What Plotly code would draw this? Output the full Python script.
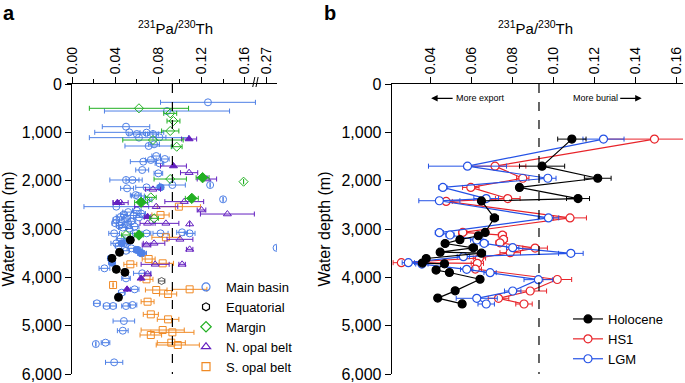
import plotly.graph_objects as go

FONT = "Liberation Sans, Arial, sans-serif"
RATIO_PROD = 0.093

# ---------------- Panel a data (depth m, 231Pa/230Th, error) ----------------
mb_depth = [379, 559, 883, 1000, 1035, 1007, 1035, 1110, 1104, 1283, 1248, 1490, 1552, 1607, 1572,
            1641, 1779, 1848, 1986, 1986, 2159, 2138, 2090, 2090, 2297, 2317, 2386, 2400, 2538,
            2620, 2650, 2680, 2700, 2720, 2750, 2760, 2790, 2810, 2840, 2860, 2880, 2900, 2930,
            2950, 2970, 2990, 3090, 3090, 3090, 3090, 3069, 3090, 3200, 3250, 3296, 3296, 3350,
            3400, 3390, 3434, 3450, 3503, 3814, 3917, 4021, 4248, 4317, 4538, 4593, 4593, 4593,
            4572, 4904, 5104, 5380, 5352, 5759]
mb_value = [0.126, 0.088, 0.050, 0.053, 0.060, 0.069, 0.075, 0.062, 0.081, 0.071, 0.076, 0.078, 0.086, 0.066, 0.073,
            0.081, 0.065, 0.080, 0.050, 0.056, 0.051, 0.069, 0.093, 0.128, 0.059, 0.061, 0.140, 0.069, 0.041,
            0.060, 0.052, 0.064, 0.048, 0.057, 0.045, 0.062, 0.050, 0.041, 0.055, 0.046, 0.040, 0.051, 0.044,
            0.058, 0.047, 0.053, 0.039, 0.059, 0.069, 0.082, 0.102, 0.109, 0.045, 0.052, 0.041, 0.048, 0.043,
            0.055, 0.279, 0.061, 0.050, 0.065, 0.030, 0.065, 0.050, 0.058, 0.046, 0.023, 0.032, 0.038, 0.050,
            0.056, 0.048, 0.047, 0.022, 0.031, 0.039]
mb_err = [0.044, 0.058, 0.022, 0.032, 0.008, 0.006, 0.005, 0.046, 0.006, 0.022, 0.005, 0.004, 0.004, 0.012, 0.005,
          0.004, 0.006, 0.004, 0.015, 0.006, 0.006, 0.010, 0.012, 0.0, 0.005, 0.006, 0.0, 0.005, 0.030,
          0.004, 0.005, 0.004, 0.003, 0.006, 0.004, 0.005, 0.004, 0.003, 0.004, 0.005, 0.003, 0.004, 0.003,
          0.004, 0.004, 0.003, 0.005, 0.005, 0.004, 0.007, 0.005, 0.005, 0.004, 0.004, 0.005, 0.004, 0.003,
          0.004, 0.0, 0.004, 0.003, 0.004, 0.005, 0.008, 0.004, 0.004, 0.003, 0.003, 0.003, 0.003, 0.004,
          0.004, 0.010, 0.005, 0.0, 0.004, 0.008]
mbf_depth = [2138, 3296, 3434, 3503, 3607, 3697]
mbf_value = [0.082, 0.046, 0.060, 0.064, 0.036, 0.037]
mbf_err = [0.003, 0.003, 0.003, 0.003, 0.003, 0.003]

eq_depth = [4076]
eq_value = [0.083]
eq_err = [0.003]
eqf_depth = [3228, 3483, 3607, 3835, 3897, 4414]
eqf_value = [0.054, 0.044, 0.037, 0.041, 0.049, 0.043]

mg_depth = [503, 607, 766, 972, 1159, 1297, 1966, 2021, 2345, 2779, 3124]
mg_value = [0.062, 0.091, 0.094, 0.091, 0.075, 0.097, 0.091, 0.159, 0.073, 0.076, 0.050]
mg_err = [0.046, 0.006, 0.006, 0.008, 0.028, 0.005, 0.015, 0.0, 0.005, 0.004, 0.004]
mgf_depth = [1938, 2366, 2448, 3124]
mgf_value = [0.121, 0.111, 0.064, 0.062]
mgf_err = [0.006, 0.006, 0.006, 0.004]

no_depth = [1835, 1966, 2179, 2455, 2434, 2538, 2607, 2690, 2883, 2883, 2897, 3214, 3296, 3331, 3421,
            3731, 3731, 3931]
no_value = [0.1085, 0.125, 0.075, 0.045, 0.104, 0.078, 0.120, 0.144, 0.070, 0.087, 0.109, 0.100, 0.076,
            0.069, 0.109, 0.077, 0.102, 0.070]
no_err = [0.008, 0.009, 0.007, 0.007, 0.018, 0.020, 0.004, 0.025, 0.007, 0.012, 0.0, 0.012, 0.010,
          0.004, 0.003, 0.013, 0.003, 0.003]
nof_depth = [1138, 1697, 2455, 2745, 4021, 4248]
nof_value = [0.1085, 0.094, 0.042, 0.070, 0.064, 0.051]
nof_err = [0.007, 0.012, 0.004, 0.003, 0.0, 0.0]

so_depth = [2538, 2710, 3172, 3621, 3731, 3710, 4041, 4159, 4262, 4345, 4248, 4504, 4766, 4869, 5090,
            5138, 5193, 5352, 5400]
so_value = [0.099, 0.082, 0.087, 0.071, 0.054, 0.084, 0.069, 0.038, 0.078, 0.089, 0.109, 0.070, 0.073,
            0.089, 0.084, 0.093, 0.073, 0.092, 0.098]
so_err = [0.020, 0.008, 0.013, 0.006, 0.006, 0.010, 0.006, 0.0, 0.010, 0.008, 0.016, 0.006, 0.007,
          0.010, 0.020, 0.020, 0.010, 0.013, 0.020]

a_ticks = [0.00, 0.04, 0.08, 0.12, 0.16, 0.27]
a_minor = [0.02, 0.06, 0.10, 0.14]

# ---------------- Panel b data ----------------
hol_depth = [1140, 1700, 1950, 2140, 2370, 2420, 2770, 3070, 3140, 3220, 3300, 3390, 3480, 3500, 3610,
             3705, 3720, 3850, 3900, 4040, 4280, 4430, 4550]
hol_value = [0.109, 0.0945, 0.1216, 0.0835, 0.112, 0.065, 0.0713, 0.0668, 0.0635, 0.0545, 0.0473, 0.061,
             0.0449, 0.065, 0.0381, 0.0362, 0.047, 0.0429, 0.0494, 0.0643, 0.0522, 0.0437, 0.0556]
hol_err = [0.0069, 0.011, 0.0065, 0.0015, 0.0056, 0.001, 0.002, 0.001, 0.001, 0.0015, 0.0015, 0.002,
           0.0015, 0.002, 0.0015, 0.0015, 0.0015, 0.0015, 0.0015, 0.001, 0.0015, 0.0015, 0.0015]

hs1_depth = [1140, 1700, 1950, 2140, 2370, 2430, 2770, 3070, 3125, 3215, 3285, 3395, 3490, 3600,
             3697, 3710, 3830, 4045, 4283, 4434, 4552]
hs1_value = [0.1492, 0.0716, 0.0851, 0.0598, 0.0778, 0.0478, 0.1081, 0.0559, 0.0752, 0.0757, 0.074,
             0.0911, 0.079, 0.064, 0.026, 0.063, 0.062, 0.1019, 0.0887, 0.0733, 0.0857]
hs1_err = [0.025, 0.015, 0.003, 0.004, 0.006, 0.003, 0.008, 0.002, 0.002, 0.002, 0.002, 0.006, 0.005,
           0.003, 0.004, 0.003, 0.003, 0.007, 0.008, 0.005, 0.004]

lgm_depth = [1140, 1700, 1950, 2140, 2370, 2415, 2770, 3075, 3124, 3228, 3296, 3387, 3504, 3572,
             3697, 3725, 3835, 3903, 4048, 4283, 4434, 4552]
lgm_value = [0.1244, 0.0582, 0.0973, 0.0462, 0.0673, 0.0445, 0.0976, 0.0445, 0.0497, 0.0627, 0.0663,
             0.0802, 0.1085, 0.0562, 0.0294, 0.036, 0.0578, 0.0692, 0.0927, 0.0802, 0.0627, 0.0673]
lgm_err = [0.010, 0.019, 0.004, 0.002, 0.006, 0.010, 0.005, 0.002, 0.002, 0.003, 0.002, 0.003, 0.006,
           0.003, 0.003, 0.003, 0.003, 0.003, 0.007, 0.004, 0.010, 0.004]

depth_ticks = [0, 1000, 2000, 3000, 4000, 5000, 6000]

# ---------------- helpers ----------------
BREAK_LO, BREAK_SHIFT = 0.17, 0.0894


def brk(values):
    """Position on the broken panel-a axis."""
    return [v if v <= BREAK_LO else v - BREAK_SHIFT for v in values]


C_MB = "#4f80e6"
C_MG = "#22b022"
C_NO = "#6420c0"
C_SO = "#f08a25"
C_HS1 = "#e8242a"
C_LGM = "#2452e6"


def errx(arr, color):
    return dict(type="data", array=arr, visible=True, color=color, thickness=1, width=2.5)


fig = go.Figure()


def add_a(depth, value, err, symbol, color, name, fill=False, size=7):
    fig.add_trace(go.Scatter(
        x=brk(value), y=depth, mode="markers", name=name, showlegend=False,
        marker=dict(symbol=symbol, size=size, color=color if fill else "rgba(0,0,0,0)",
                    line=dict(color=color, width=1)),
        error_x=errx(err, color) if err is not None else None,
        xaxis="x", yaxis="y"))


add_a(mb_depth, mb_value, mb_err, "circle", C_MB, "Main basin")
add_a(mbf_depth, mbf_value, mbf_err, "circle", C_MB, "Main basin", fill=True)
add_a(so_depth, so_value, so_err, "square", C_SO, "S. opal belt")
add_a(no_depth, no_value, no_err, "triangle-up", C_NO, "N. opal belt")
add_a(nof_depth, nof_value, nof_err, "triangle-up", C_NO, "N. opal belt", fill=True)
add_a(mg_depth, mg_value, mg_err, "diamond", C_MG, "Margin")
add_a(mgf_depth, mgf_value, mgf_err, "diamond", C_MG, "Margin", fill=True, size=8)
add_a(eq_depth, eq_value, eq_err, "hexagon", "#555555", "Equatorial")
add_a(eqf_depth, eqf_value, None, "circle", "black", "Equatorial", fill=True, size=8)

# legend entries for panel a (open symbols, as in the key)
for nm, sym, col in [("Main basin", "circle", C_MB), ("Equatorial", "hexagon", "black"),
                     ("Margin", "diamond", C_MG), ("N. opal belt", "triangle-up", C_NO),
                     ("S. opal belt", "square", C_SO)]:
    fig.add_trace(go.Scatter(x=[None], y=[None], mode="markers", name=nm, legend="legend",
                             marker=dict(symbol=sym, size=8, color="rgba(0,0,0,0)",
                                         line=dict(color=col, width=1.2)),
                             xaxis="x", yaxis="y"))


def add_b(depth, value, err, color, name, filled, rank):
    fig.add_trace(go.Scatter(
        x=value, y=depth, mode="lines+markers", name=name, legend="legend2", legendrank=rank,
        line=dict(color=color, width=1.2),
        marker=dict(symbol="circle", size=8, color=color if filled else "white",
                    line=dict(color=color, width=1.2)),
        error_x=errx(err, color), xaxis="x2", yaxis="y2"))


add_b(hs1_depth, hs1_value, hs1_err, C_HS1, "HS1", False, 2)
add_b(lgm_depth, lgm_value, lgm_err, C_LGM, "LGM", False, 3)
add_b(hol_depth, hol_value, hol_err, "black", "Holocene", True, 1)

W, H = 685, 383
ax_font = dict(family=FONT, size=14, color="black")
common_x = dict(side="top", tickangle=-90, ticks="outside", ticklen=6, tickwidth=1,
                showline=True, linecolor="black", linewidth=1, showgrid=False, zeroline=False,
                tickfont=ax_font, tickcolor="black", automargin=False)
common_y = dict(range=[6000, 0], tickvals=depth_ticks, tickformat=",", ticks="outside", ticklen=6,
                tickwidth=1, showline=True, linecolor="black", linewidth=1, showgrid=False,
                zeroline=False, tickfont=dict(family=FONT, size=16, color="black"), tickcolor="black",
                automargin=False,
                title=dict(text="Water depth (m)", font=dict(family=FONT, size=16, color="black"),
                           standoff=6))

fig.update_layout(
    width=W, height=H, margin=dict(l=0, r=0, t=0, b=0, autoexpand=False),
    paper_bgcolor="white", plot_bgcolor="white",
    font=dict(family=FONT, color="black"),
    xaxis=dict(domain=[66.7 / W, 277 / W], range=[-0.005, 0.19], anchor="y",
               tickvals=brk(a_ticks), ticktext=["%.2f" % t for t in a_ticks],
               minor=dict(tickvals=a_minor, ticks="outside", ticklen=4, tickcolor="black"),
               **common_x),
    yaxis=dict(domain=[1 - 374 / H, 1 - 84 / H], anchor="free", position=71 / W, **common_y),
    xaxis2=dict(domain=[391.7 / W, 683 / W], range=[0.0213, 0.1631], anchor="y2",
                tickvals=[0.04, 0.06, 0.08, 0.10, 0.12, 0.14, 0.16], tickformat=".2f", **common_x),
    yaxis2=dict(domain=[1 - 374 / H, 1 - 84 / H], anchor="x2", **common_y),
    legend=dict(x=186 / W, y=1 - 272 / H, xanchor="left", yanchor="top",
                bgcolor="rgba(0,0,0,0)", font=dict(family=FONT, size=13, color="black"),
                tracegroupgap=0),
    legend2=dict(x=568 / W, y=1 - 304 / H, xanchor="left", yanchor="top",
                 bgcolor="rgba(0,0,0,0)", font=dict(family=FONT, size=13, color="black"),
                 traceorder="normal"),
)

# production-ratio dashed lines
for xr, yr in [("x", "y"), ("x2", "y2")]:
    fig.add_shape(type="line", xref=xr, yref=yr, x0=RATIO_PROD, x1=RATIO_PROD, y0=0, y1=6000,
                  line=dict(color="black", width=1.2, dash="dash"))

# axis-break marks on panel a
for dx in [-0.0015, 0.0015]:
    fig.add_shape(type="line", xref="x", yref="paper", x0=BREAK_LO + dx - 0.001, x1=BREAK_LO + dx + 0.001,
                  y0=1 - 87 / H, y1=1 - 77 / H, line=dict(color="black", width=1))

title_txt = "<sup>231</sup>Pa/<sup>230</sup>Th"
fig.add_annotation(text=title_txt, x=175 / W, y=1 - 16 / H, xref="paper", yref="paper",
                   xanchor="center", showarrow=False, font=dict(family=FONT, size=15, color="black"))
fig.add_annotation(text=title_txt, x=535 / W, y=1 - 16 / H, xref="paper", yref="paper",
                   xanchor="center", showarrow=False, font=dict(family=FONT, size=15, color="black"))
fig.add_annotation(text="<b>a</b>", x=1 / W, y=1 - 0 / H, xref="paper", yref="paper",
                   xanchor="left", yanchor="top", showarrow=False,
                   font=dict(family=FONT, size=20, color="black"))
fig.add_annotation(text="<b>b</b>", x=322 / W, y=1 - 0 / H, xref="paper", yref="paper",
                   xanchor="left", yanchor="top", showarrow=False,
                   font=dict(family=FONT, size=20, color="black"))

# export / burial arrows
fig.add_annotation(text="More export", x=0.0645, y=296, xref="x2", yref="y2", showarrow=False,
                   font=dict(family=FONT, size=9, color="black"))
fig.add_annotation(text="", x=0.0405, y=296, xref="x2", yref="y2", ax=23, ay=0,
                   showarrow=True, arrowhead=2, arrowsize=1, arrowwidth=1.3, arrowcolor="black")
fig.add_annotation(text="More burial", x=0.1203, y=296, xref="x2", yref="y2", showarrow=False,
                   font=dict(family=FONT, size=9, color="black"))
fig.add_annotation(text="", x=0.1430, y=296, xref="x2", yref="y2", ax=-23, ay=0,
                   showarrow=True, arrowhead=2, arrowsize=1, arrowwidth=1.3, arrowcolor="black")

fig.write_html("out.html", config={"displayModeBar": False},
               post_script="document.body.style.margin='0';")
